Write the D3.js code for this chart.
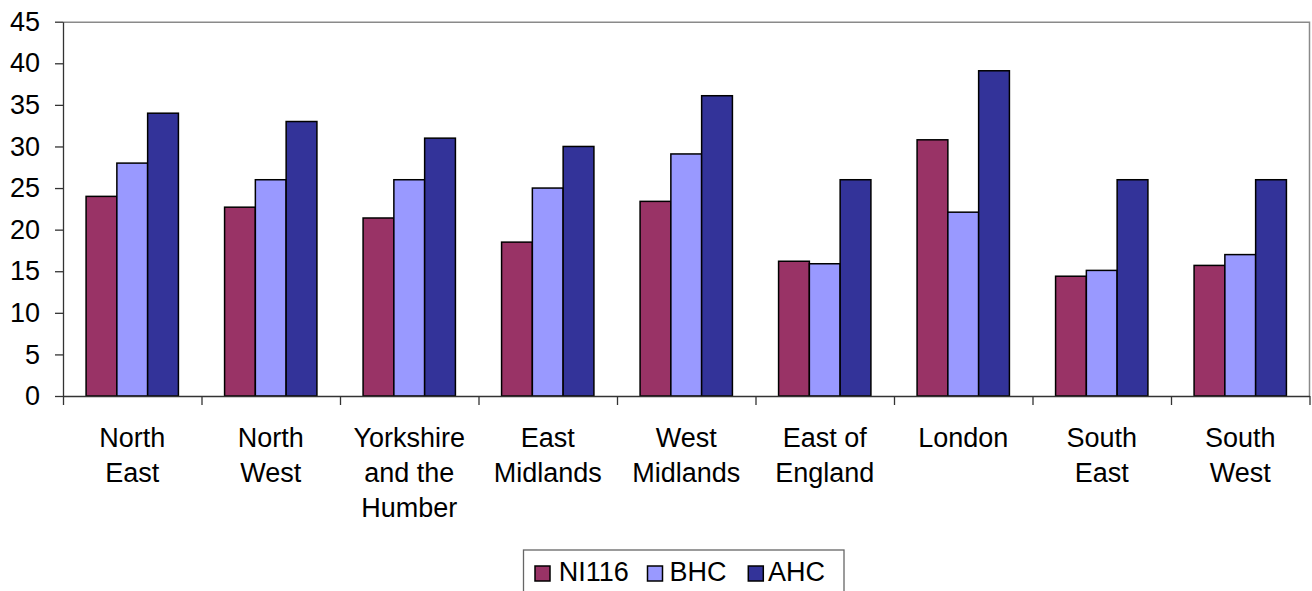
<!DOCTYPE html>
<html><head><meta charset="utf-8">
<script src="https://cdn.jsdelivr.net/npm/d3@7"></script>
<style>
body{margin:0;background:#fff}
svg{display:block}
text{font-family:"Liberation Sans",Arial,sans-serif;fill:#000}
</style>
</head><body>
<svg id="c" width="1312" height="591"></svg>
<script>
const categories = ["North East","North West","Yorkshire and the Humber","East Midlands","West Midlands","East of England","London","South East","South West"];
const categoryLines = [["North","East"],["North","West"],["Yorkshire","and the","Humber"],["East","Midlands"],["West","Midlands"],["East of","England"],["London"],["South","East"],["South","West"]];
const seriesNames = ["NI116","BHC","AHC"];
const ni116 = [24, 22.7, 21.4, 18.5, 23.4, 16.2, 30.8, 14.4, 15.7];
const bhc   = [28, 26, 26, 25, 29.1, 15.9, 22.1, 15.1, 17];
const ahc   = [34, 33, 31, 30, 36.1, 26, 39.1, 26, 26];
const yTicks = [0,5,10,15,20,25,30,35,40,45];
const seriesColors = ["#993366","#9999FF","#333399"];

const seriesValues = [ni116, bhc, ahc];
const svg = d3.select("#c");
const L = 63, R = 1309.5, T = 21.7, B = 396;

const x0 = d3.scaleBand().domain(categories).range([L, R]).paddingInner(0).paddingOuter(0);
const x1 = d3.scaleBand().domain(seriesNames).range([0, x0.bandwidth()]).paddingInner(0).paddingOuter(0.75);
const y = d3.scaleLinear().domain([0,45]).range([B, T]);
const color = d3.scaleOrdinal().domain(seriesNames).range(seriesColors);

// plot border (top & right)
svg.append("path")
  .attr("d", `M${L},${T+0.5}H${R}V${B}`)
  .attr("fill","none").attr("stroke","#8a8a8a").attr("stroke-width",1.5);

// bars
const g = svg.append("g");
categories.forEach((c, i) => {
  const gg = g.append("g").attr("transform", `translate(${x0(c)},0)`);
  seriesNames.forEach((s, j) => {
    const v = seriesValues[j][i];
    gg.append("rect")
      .attr("x", x1(s)).attr("width", x1.bandwidth())
      .attr("y", y(v)).attr("height", y(0) - y(v))
      .attr("fill", color(s)).attr("stroke","#000").attr("stroke-width",1.5);
  });
});

// y axis
const ya = svg.append("g").attr("transform", `translate(${L},0)`)
  .call(d3.axisLeft(y).tickValues(yTicks).tickSize(8).tickSizeOuter(0).tickPadding(15));
ya.selectAll("text").style("font-size","27px");
ya.selectAll("path,line").attr("stroke","#333").attr("stroke-width",1.3);

// x axis with ticks at category boundaries
const xe = d3.scaleLinear().domain([0, categories.length]).range([L, R]);
const xa = svg.append("g").attr("transform", `translate(0,${B})`)
  .call(d3.axisBottom(xe).ticks(categories.length).tickFormat("").tickSize(9).tickSizeOuter(0));
xa.selectAll("path,line").attr("stroke","#333").attr("stroke-width",1.3);

// category labels
categories.forEach((c, i) => {
  const t = svg.append("text")
    .attr("x", x0(c) + x0.bandwidth()/2)
    .attr("y", 446.7)
    .attr("text-anchor","middle")
    .style("font-size","27px");
  categoryLines[i].forEach((ln, k) => {
    t.append("tspan").attr("x", x0(c) + x0.bandwidth()/2).attr("dy", k === 0 ? 0 : 35).text(ln);
  });
});

// legend
const lg = svg.append("g");
lg.append("rect").attr("x",523.5).attr("y",550).attr("width",320.5).attr("height",60)
  .attr("fill","#fff").attr("stroke","#666").attr("stroke-width",1.3);
const legendX = [535, 647.5, 748.3];
const legendTextX = [558.7, 669.6, 768];
seriesNames.forEach((s, j) => {
  lg.append("rect").attr("x", legendX[j]).attr("y", 566).attr("width", 15).attr("height", 15)
    .attr("fill", color(s)).attr("stroke","#000").attr("stroke-width",1.5);
  lg.append("text").attr("x", legendTextX[j]).attr("y", 581).style("font-size","27px").text(s);
});
</script>
</body></html>
